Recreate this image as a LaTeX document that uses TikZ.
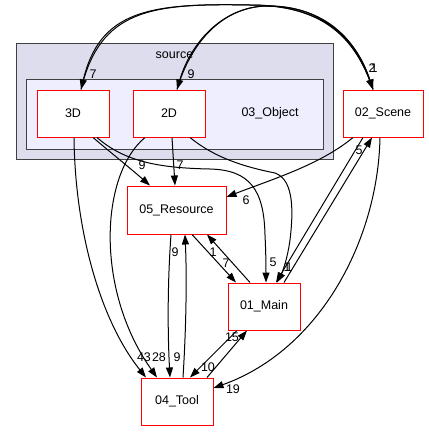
\documentclass[tikz,border=0pt]{standalone}
\usepackage{fontspec}
\setmainfont{Liberation Sans}
\usepackage{tikz}
\usetikzlibrary{arrows.meta}

\definecolor{outerbg}{HTML}{DDDDEE}
\definecolor{innerbg}{HTML}{EEEEFF}

\begin{document}
\begin{tikzpicture}[x=1pt, y=-1pt, line width=1pt, >={Triangle[length=10pt, width=7pt]},
        every node/.style={font=\fontsize{12.5}{14}\selectfont},
        dir/.style={draw=red, fill=white, minimum width=72pt, minimum height=47pt, inner sep=0pt},
        lbl/.style={inner sep=0pt}]
        \useasboundingbox (0,0) rectangle (429,432);

        % Clusters
        \draw[black!75, fill=outerbg] (16,43) rectangle (333,159);
        \draw[black!75, fill=innerbg] (26,79) rectangle (323,149);
        \node (source) at (174.5,55.5) {source};
        \node (object) at (270,113) {03\_Object};

        % Directories
        \node[dir] (3D) at (73,113.5) {3D};
        \node[dir] (2D) at (169,113.5) {2D};
        \node[dir, minimum width=80pt] (scene) at (383,113.5) {02\_Scene};
        \node[dir, minimum width=99pt, minimum height=48pt] (resource) at (176.5,210) {05\_Resource};
        \node[dir] (main) at (264,306.5) {01\_Main};
        \node[dir] (tool) at (177,401.5) {04\_Tool};

        % Over the top to and from 02_Scene
        \draw[->] ([xshift=-10pt]scene.north) .. controls (355,35) and (320,5) .. (250,5)
            .. controls (150,3) and (100,10) .. ([xshift=8pt]3D.north) node[lbl] at (93,74) {7};
        \draw[->] ([xshift=8pt]3D.north) .. controls (100,10) and (150,3) .. (250,5)
            .. controls (320,5) and (355,35) .. ([xshift=-10pt]scene.north) node[lbl] at (372,68) {2};
        \draw[->] ([xshift=-10pt]scene.north) .. controls (355,35) and (320,5) .. (265,6)
            .. controls (220,8) and (190,45) .. ([xshift=8pt]2D.north) node[lbl] at (191,74) {9};
        \draw[->] ([xshift=8pt]2D.north) .. controls (190,45) and (220,8) .. (265,6)
            .. controls (320,5) and (355,35) .. ([xshift=-10pt]scene.north) node[lbl] at (374,68) {1};

        % From 3D
        \draw[->] ([xshift=20pt]3D.south) .. controls (110,152) and (130,168) .. ([xshift=-26.5pt]resource.north)
            node[lbl] at (142,165) {9};
        \draw[->] ([xshift=24pt]3D.south) .. controls (125,162) and (160,168) .. (210,169)
            .. controls (250,170) and (264,190) .. (265,235)
            .. controls (266,255) and (266,270) .. ([xshift=2pt]main.north) node[lbl] at (273,262) {5};
        \draw[->] ([xshift=1pt]3D.south) .. controls (75,230) and (100,320) .. ([xshift=-31pt]tool.north)
            node[lbl] at (144,357) {43};

        % From 2D
        \draw[->] ([xshift=3pt]2D.south) -- ([xshift=-1.5pt]resource.north) node[lbl] at (180,165) {7};
        \draw[->] ([xshift=21pt]2D.south) .. controls (215,158) and (245,167) .. (275,173)
            .. controls (295,180) and (293,215) .. (290,240)
            .. controls (287,262) and (281,275) .. ([xshift=13pt]main.north) node[lbl] at (287,267) {1};
        \draw[->] ([xshift=-24pt]2D.south) .. controls (100,175) and (95,290) .. ([xshift=-20pt]tool.north)
            node[lbl] at (159,357) {28};

        % From 02_Scene
        \draw[->] ([xshift=-30pt]scene.south) .. controls (320,165) and (270,180) .. ([yshift=13pt]resource.east)
            node[lbl] at (246,200) {6};
        \draw[->] ([xshift=-20pt]scene.south) -- ([xshift=12pt]main.north) node[lbl] at (289,267) {1};
        \draw[->] ([xshift=-3pt]scene.south) .. controls (378,240) and (320,350) .. ([yshift=13.5pt]tool.east)
            node[lbl] at (233,389) {19};

        % Between 05_Resource, 01_Main and 04_Tool
        \draw[->] ([xshift=20pt]main.north) -- ([xshift=-11pt]scene.south) node[lbl] at (359,150) {5};
        \draw[->] ([xshift=15.5pt]resource.south) -- ([xshift=-28pt]main.north) node[lbl] at (226,263) {7};
        \draw[->] ([xshift=-14pt]main.north) -- ([xshift=30.5pt]resource.south) node[lbl] at (213,252) {1};
        \draw[->] ([xshift=-5.5pt]resource.south) .. controls (167,290) and (168,340) .. ([xshift=-7pt]tool.north)
            node[lbl] at (177,357) {9};
        \draw[->] ([xshift=6pt]tool.north) .. controls (186,330) and (187,280) .. ([xshift=8.5pt]resource.south)
            node[lbl] at (175,252) {9};
        \draw[->] ([xshift=-27pt]main.south) -- ([xshift=13pt]tool.north) node[lbl] at (208,367) {10};
        \draw[->] ([xshift=30pt]tool.north) -- ([xshift=-17pt]main.south) node[lbl] at (232,337) {15};
    \end{tikzpicture}
\end{document}
